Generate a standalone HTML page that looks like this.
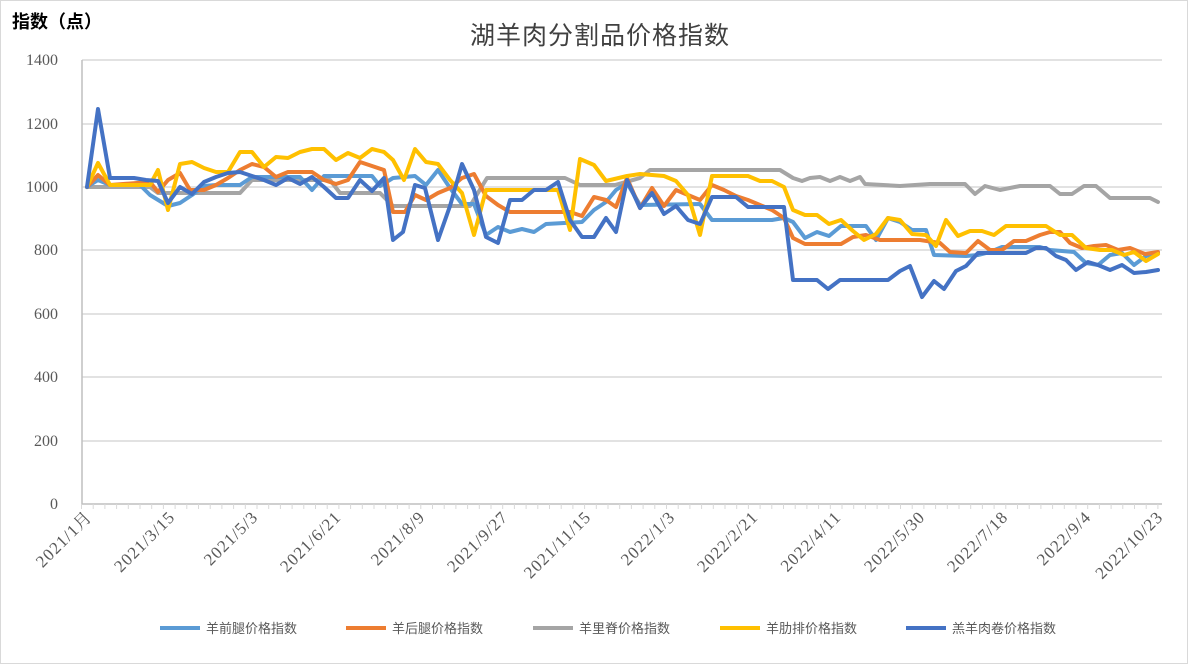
<!DOCTYPE html>
<html><head><meta charset="utf-8"><style>
html,body{margin:0;padding:0;background:#fff;}
svg{display:block;}
text{font-family:"Liberation Sans","Noto Sans CJK SC",sans-serif;}
.s text{font-family:"Liberation Serif","Noto Serif CJK SC",serif;}
</style></head><body>
<svg width="1188" height="664" viewBox="0 0 1188 664" xmlns="http://www.w3.org/2000/svg">
<rect x="0.5" y="0.5" width="1187" height="663" fill="#fff" stroke="#d9d9d9"/>
<text x="12" y="28" font-size="18" font-weight="bold" fill="#000">指数（点）</text>
<text x="600" y="44" font-size="25" fill="#404040" text-anchor="middle" letter-spacing="1">湖羊肉分割品价格指数</text>
<g stroke="#d9d9d9" stroke-width="1.5">
<line x1="82" y1="60" x2="1162" y2="60"/><line x1="82" y1="124" x2="1162" y2="124"/>
<line x1="82" y1="187" x2="1162" y2="187"/><line x1="82" y1="250" x2="1162" y2="250"/>
<line x1="82" y1="314" x2="1162" y2="314"/><line x1="82" y1="377" x2="1162" y2="377"/>
<line x1="82" y1="441" x2="1162" y2="441"/>
</g>
<line x1="82" y1="504" x2="1162" y2="504" stroke="#bfbfbf" stroke-width="1.5"/>
<line x1="82" y1="60" x2="82" y2="504" stroke="#bfbfbf" stroke-width="1.5"/>
<path stroke="#d9d9d9" stroke-width="1" d="M81.5 504v5M93.2 504v5M104.9 504v5M116.6 504v5M128.3 504v5M140 504v5M151.7 504v5M163.4 504v5M175.1 504v5M186.8 504v5M198.5 504v5M210.2 504v5M221.9 504v5M233.6 504v5M245.3 504v5M257 504v5M268.7 504v5M280.4 504v5M292.1 504v5M303.8 504v5M315.5 504v5M327.2 504v5M338.9 504v5M350.6 504v5M362.3 504v5M374 504v5M385.7 504v5M397.4 504v5M409.1 504v5M420.8 504v5M432.5 504v5M444.2 504v5M455.9 504v5M467.6 504v5M479.3 504v5M491 504v5M502.7 504v5M514.4 504v5M526.1 504v5M537.8 504v5M549.5 504v5M561.2 504v5M572.9 504v5M584.6 504v5M596.3 504v5M608 504v5M619.7 504v5M631.4 504v5M643.1 504v5M654.8 504v5M666.5 504v5M678.2 504v5M689.9 504v5M701.6 504v5M713.3 504v5M725 504v5M736.7 504v5M748.4 504v5M760.1 504v5M771.8 504v5M783.5 504v5M795.2 504v5M806.9 504v5M818.6 504v5M830.3 504v5M842 504v5M853.7 504v5M865.4 504v5M877.1 504v5M888.8 504v5M900.5 504v5M912.2 504v5M923.9 504v5M935.6 504v5M947.3 504v5M959 504v5M970.7 504v5M982.4 504v5M994.1 504v5M1005.8 504v5M1017.5 504v5M1029.2 504v5M1040.9 504v5M1052.6 504v5M1064.3 504v5M1076 504v5M1087.7 504v5M1099.4 504v5M1111.1 504v5M1122.8 504v5M1134.5 504v5M1146.2 504v5M1157.9 504v5"/>
<g class="s" font-size="16" fill="#595959" text-anchor="end">
<text x="58" y="65">1400</text><text x="58" y="129">1200</text><text x="58" y="192">1000</text>
<text x="58" y="255">800</text><text x="58" y="319">600</text><text x="58" y="382">400</text>
<text x="58" y="446">200</text><text x="58" y="509">0</text>
</g>
<g class="s" font-size="17" fill="#595959" text-anchor="end" letter-spacing="1">
<text transform="translate(93,518) rotate(-45)">2021/1月</text>
<text transform="translate(176,518) rotate(-45)">2021/3/15</text>
<text transform="translate(259,518) rotate(-45)">2021/5/3</text>
<text transform="translate(342,518) rotate(-45)">2021/6/21</text>
<text transform="translate(426,518) rotate(-45)">2021/8/9</text>
<text transform="translate(509,518) rotate(-45)">2021/9/27</text>
<text transform="translate(592,518) rotate(-45)">2021/11/15</text>
<text transform="translate(676,518) rotate(-45)">2022/1/3</text>
<text transform="translate(759,518) rotate(-45)">2022/2/21</text>
<text transform="translate(842,518) rotate(-45)">2022/4/11</text>
<text transform="translate(926,518) rotate(-45)">2022/5/30</text>
<text transform="translate(1009,518) rotate(-45)">2022/7/18</text>
<text transform="translate(1092,518) rotate(-45)">2022/9/4</text>
<text transform="translate(1164,518) rotate(-45)">2022/10/23</text>
</g>
<g fill="none" stroke-width="4" stroke-linejoin="round" stroke-linecap="round">
<polyline stroke="#a5a5a5" points="87,187 98,187 110,187 150,187 158,193 168,193 240,193 252,180 330,180 340,193 380,193 393,206 470,206 487,178 565,178 580,185 615,185 640,178 650,170 780,170 793,178 802,181 810,178 820,177 830,181 840,177 850,181 860,177 865,184 900,186 930,184 965,184 975,194 985,186 1000,190 1020,186 1050,186 1060,194 1072,194 1084,186 1096,186 1110,198 1150,198 1158,202"/>
<polyline stroke="#5b9bd5" points="87,187 98,180 110,185 140,185 150,195 168,206 180,203 192,195 204,186 216,185 240,185 252,177 300,177 312,190 324,176 372,176 380,186 393,178 415,176 426,185 438,170 450,188 462,204 474,204 486,235 498,227 510,232 522,229 534,232 546,224 582,222 594,210 606,202 616,190 627,183 640,205 700,204 712,220 772,220 784,218 793,222 805,238 817,232 829,236 841,226 866,226 876,240 888,218 900,222 912,230 926,230 934,255 966,256 978,255 990,252 1002,247 1040,247 1050,250 1074,252 1086,263 1098,265 1110,255 1122,253 1134,265 1146,256 1158,253"/>
<polyline stroke="#ed7d31" points="87,187 98,175 110,185 150,182 158,192 168,180 180,173 190,190 204,190 216,185 228,178 240,170 252,164 264,167 276,177 288,172 312,172 324,180 336,184 348,180 360,162 372,166 384,170 393,212 405,212 415,195 426,200 438,193 450,188 462,178 474,174 486,196 498,205 510,212 570,212 582,216 594,197 606,200 616,207 627,178 640,208 652,188 664,206 676,190 688,195 700,200 712,185 724,190 736,196 748,200 760,205 772,210 784,218 793,238 805,244 841,244 853,237 866,235 880,240 920,240 940,243 950,252 966,253 978,241 990,250 1002,250 1014,241 1026,241 1040,235 1050,232 1060,232 1070,243 1082,248 1094,246 1106,245 1118,250 1130,248 1145,254 1158,252"/>
<polyline stroke="#ffc000" points="87,187 98,163 110,185 150,185 158,170 168,210 180,164 192,162 204,168 216,172 228,172 240,152 252,152 264,167 276,157 288,158 300,152 312,149 324,149 336,160 348,153 360,158 372,149 384,152 393,160 404,180 415,149 426,162 438,164 450,180 462,193 474,235 486,190 558,190 570,230 580,159 594,165 606,181 627,176 640,174 664,176 676,181 688,195 700,235 712,176 748,176 760,181 772,181 784,187 793,210 805,215 817,215 829,224 841,220 853,231 864,240 876,234 888,218 900,220 912,234 926,235 936,246 946,220 958,236 970,231 982,231 994,235 1006,226 1046,226 1060,235 1072,235 1086,248 1100,250 1112,250 1124,255 1134,252 1146,261 1158,254"/>
<polyline stroke="#4472c4" points="87,187 98,109 110,178 134,178 146,180 158,181 168,203 180,187 192,194 204,182 216,177 228,173 240,172 252,176 264,180 276,185 288,178 300,184 312,177 324,187 336,198 348,198 360,180 372,191 384,178 393,240 403,232 415,185 425,188 438,240 450,206 462,164 474,190 486,237 498,243 510,200 522,200 534,190 546,190 558,182 570,220 582,237 594,237 606,218 616,232 627,180 640,208 652,193 664,214 676,206 688,220 700,224 712,197 736,197 748,207 784,207 793,280 817,280 828,289 840,280 888,280 900,271 910,266 922,297 934,281 944,289 956,271 966,266 978,253 1026,253 1036,248 1046,248 1056,256 1066,260 1076,270 1088,262 1098,265 1110,270 1122,265 1134,273 1146,272 1158,270"/>
</g>
<g font-size="13" fill="#595959">
<line x1="160" y1="628" x2="200" y2="628" stroke="#5b9bd5" stroke-width="4"/><text x="206" y="633">羊前腿价格指数</text>
<line x1="346" y1="628" x2="386" y2="628" stroke="#ed7d31" stroke-width="4"/><text x="392" y="633">羊后腿价格指数</text>
<line x1="533" y1="628" x2="573" y2="628" stroke="#a5a5a5" stroke-width="4"/><text x="579" y="633">羊里脊价格指数</text>
<line x1="720" y1="628" x2="760" y2="628" stroke="#ffc000" stroke-width="4"/><text x="766" y="633">羊肋排价格指数</text>
<line x1="906" y1="628" x2="946" y2="628" stroke="#4472c4" stroke-width="4"/><text x="952" y="633">羔羊肉卷价格指数</text>
</g>
</svg>
</body></html>
